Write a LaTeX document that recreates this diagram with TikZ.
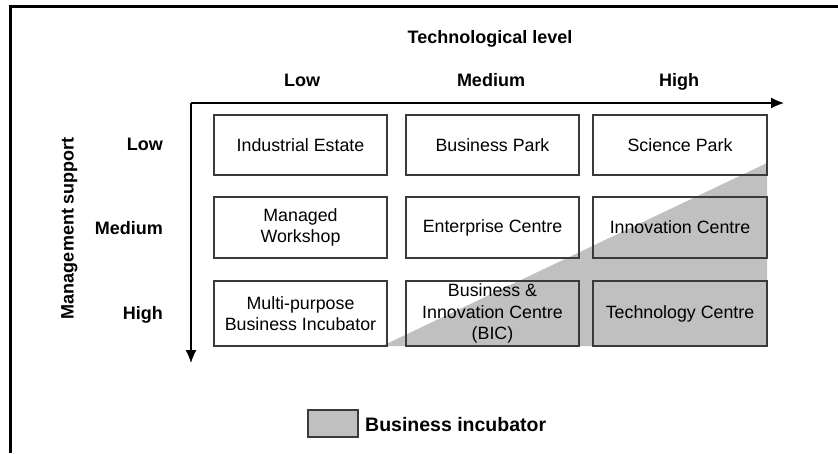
\documentclass[tikz,border=0pt]{standalone}
\usepackage{fontspec}
\setmainfont{Liberation Sans}
\usetikzlibrary{arrows.meta}
\definecolor{incgray}{HTML}{C0C0C0}
\definecolor{boxline}{HTML}{3A3A3A}
\tikzset{
  cell/.style={draw=boxline, line width=1.4pt, inner sep=0pt, align=center,
    font=\fontsize{17.8}{21.5}\selectfont},
  hdr/.style={inner sep=0pt, text height=13pt, text depth=0pt, font=\fontsize{18}{22}\selectfont\bfseries},
  axisline/.style={line width=1.2pt, -{Latex[length=13pt,width=11pt]}},
  legbox/.style={draw=boxline, line width=1.4pt, fill=incgray, minimum width=50pt, minimum height=27pt, inner sep=0pt}
}
\begin{document}
\begin{tikzpicture}[x=1pt,y=-1pt]
\useasboundingbox (0,0) rectangle (838,453);
% frame
\draw[line width=2.2pt] (838,6.5) -- (10.5,6.5) -- (10.5,453);
% shaded triangle
\fill[incgray] (382,346) -- (767,346) -- (767,163) -- cycle;
% headers
\node[hdr] (tl) at (490,37) {Technological level};
\node[hdr] (cl) at (302,80) {Low};
\node[hdr] (cm) at (491,80) {Medium};
\node[hdr] (ch) at (679,80) {High};
\node[hdr, anchor=east] (rl) at (163,144) {Low};
\node[hdr, anchor=east] (rm) at (163,228) {Medium};
\node[hdr, anchor=east] (rh) at (163,313) {High};
\node[hdr, rotate=90] (ms) at (67,228) {Management support};
% axes
\coordinate (o) at (191,103);
\coordinate (xe) at (784,103);
\coordinate (ye) at (191,363);
\draw[axisline] (o) -- (xe);
\draw[axisline] (o) -- (ye);
% cells
\node[cell, minimum width=173pt, minimum height=60pt] (a1) at (300.5,145) {Industrial Estate};
\node[cell, minimum width=173pt, minimum height=60pt] (a2) at (492.5,145) {Business Park};
\node[cell, minimum width=174pt, minimum height=60pt] (a3) at (680,145) {Science Park};
\node[cell, minimum width=173pt, minimum height=61pt] (b1) at (300.5,227.5) {Managed\\Workshop};
\node[cell, minimum width=173pt, minimum height=61pt] (b2) at (492.5,227.5) {Enterprise Centre};
\node[cell, minimum width=174pt, minimum height=61pt] (b3) at (680,227.5) {Innovation Centre};
\node[cell, minimum width=173pt, minimum height=65pt] (c1) at (300.5,313.5) {Multi-purpose\\Business Incubator};
\node[cell, minimum width=173pt, minimum height=65pt] (c2) at (492.5,313.5) {Business \&\\Innovation Centre\\(BIC)};
\node[cell, minimum width=174pt, minimum height=65pt] (c3) at (680,313.5) {Technology Centre};
% legend
\node[legbox] (lg) at (333,423.5) {};
\node[hdr, anchor=west, text height=14pt, font=\fontsize{19.5}{23}\selectfont\bfseries] (lt) at (365,424) {Business incubator};
\end{tikzpicture}
\end{document}
